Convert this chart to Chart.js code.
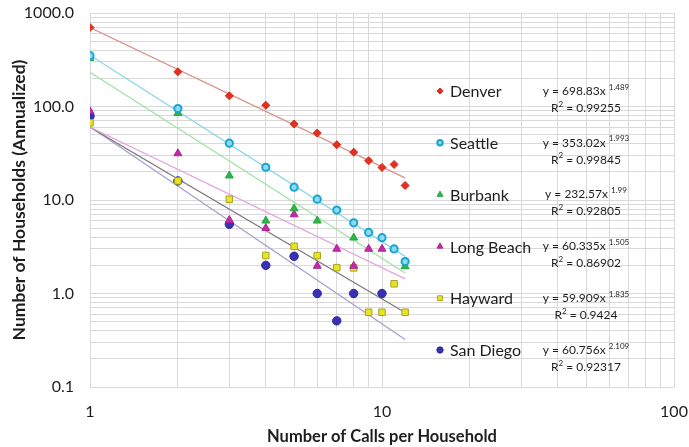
<!DOCTYPE html>
<html>
<head>
<meta charset="utf-8">
<script src="https://cdn.jsdelivr.net/npm/chart.js@4/dist/chart.umd.min.js"></script>
<style>
  html, body { margin: 0; padding: 0; background: #ffffff; }
  #wrap { width: 689px; height: 447px; }
</style>
</head>
<body>
<div id="wrap"><canvas id="c" width="689" height="447"></canvas></div>
<script>
// Calls per household (x) and annualized household counts per city (y)
const callCounts = [1, 2, 3, 4, 5, 6, 7, 8, 9, 10, 11, 12];

const cities = ['Denver', 'Seattle', 'Burbank', 'Long Beach', 'Hayward', 'San Diego'];

const denver    = [700, 235, 130, 103, 65, 52, 39, 32.5, 26.3, 22.3, 24, 14.3];
const seattle   = [350, 95, 40.5, 22.4, 13.7, 10.2, 7.8, 5.7, 4.5, 3.95, 3.0, 2.2];
const burbank   = [330, 85, 18.2, 6.0, 8.1, 6.0, null, 3.95, null, null, null, 1.95];
const longBeach = [89, 31.5, 6.1, 5.0, 7.0, 1.97, 3.0, 1.97, 3.0, 3.0, null, null];
const hayward   = [67, 16, 10.2, 2.55, 3.2, 2.54, 1.89, 1.88, 0.63, 0.63, 1.27, 0.63];
const sanDiego  = [79, 16, 5.5, 2.0, 2.5, 1.0, 0.51, 1.0, null, 1.0, null, null];

// Power-law fits y = a * x^(-b) with their R² values
const fitCoef = [698.83, 353.02, 232.57, 60.335, 59.909, 60.756];
const fitExp  = [1.489, 1.993, 1.99, 1.505, 1.835, 2.109];
const fitR2   = ['0.99255', '0.99845', '0.92805', '0.86902', '0.9424', '0.92317'];
const fitRange = [1, 12];

// Tick labels
const xTickLabels = ['1', '10', '100'];
const yTickLabels = ['0.1', '1.0', '10.0', '100.0', '1000.0'];

const seriesValues = [denver, seattle, burbank, longBeach, hayward, sanDiego];

const markerStyle = [
  { pointStyle: 'rectRot',  radius: 4,   fill: '#e5301f', stroke: '#d22a1a', width: 1 },
  { pointStyle: 'circle',   radius: 3.6, fill: '#8fdaf0', stroke: '#17a6d2', width: 2 },
  { pointStyle: 'triangle', radius: 4.6, fill: '#2cb548', stroke: '#27a642', width: 1 },
  { pointStyle: 'triangle', radius: 4.6, fill: '#c02ba6', stroke: '#b02498', width: 1 },
  { pointStyle: 'rect',     radius: 4.6, fill: '#e6e51e', stroke: '#a7a42a', width: 1 },
  { pointStyle: 'circle',   radius: 4.2, fill: '#3832b2', stroke: '#2a2596', width: 1 }
];
const trendColor = ['#d9938b', '#8ed6e8', '#9fe3a2', '#e4a6df', '#7c7c7c', '#a2a2cc'];

const FONT = 'Lato, "Open Sans", "DejaVu Sans", sans-serif';
const TEXT = '#1e1e1e';
const GRID = '#d9d9d9';

function isDecade(v) {
  const l = Math.log10(v);
  return Math.abs(l - Math.round(l)) < 1e-9;
}
function logTicks(min, max) {
  const out = [];
  for (let e = Math.round(Math.log10(min)); e < Math.round(Math.log10(max)); e++) {
    for (let m = 1; m <= 9; m++) out.push({ value: m * Math.pow(10, e) });
  }
  out.push({ value: max });
  return out;
}

const datasets = [];
cities.forEach((name, i) => {
  const st = markerStyle[i];
  datasets.push({
    label: name,
    order: 0,
    showLine: false,
    data: callCounts.map((x, k) => ({ x: x, y: seriesValues[i][k] })).filter(p => p.y !== null),
    pointStyle: st.pointStyle,
    pointRadius: st.radius,
    pointBackgroundColor: st.fill,
    pointBorderColor: st.stroke,
    pointBorderWidth: st.width
  });
});
cities.forEach((name, i) => {
  datasets.push({
    label: name + ' fit',
    order: 1,
    showLine: true,
    data: fitRange.map(x => ({ x: x, y: fitCoef[i] * Math.pow(x, -fitExp[i]) })),
    borderColor: trendColor[i],
    borderWidth: 1.3,
    pointRadius: 0
  });
});

// Series key with fit equations, drawn inside the plot on the right
const fitLegend = {
  id: 'fitLegend',
  afterDatasetsDraw(chart) {
    const ctx = chart.ctx;
    const top = 91, step = 51.8;
    const markX = 440, nameX = 450, eqX = 586;
    ctx.save();
    cities.forEach((name, i) => {
      const y = top + i * step;
      const st = markerStyle[i];
      ctx.fillStyle = st.fill;
      ctx.strokeStyle = st.stroke;
      ctx.lineWidth = st.width;
      Chart.helpers.drawPoint(ctx, {
        pointStyle: st.pointStyle, radius: st.radius * 0.75, rotation: 0, borderWidth: st.width
      }, markX, y);

      ctx.fillStyle = TEXT;
      ctx.textBaseline = 'middle';
      ctx.textAlign = 'left';
      ctx.font = '16px ' + FONT;
      ctx.fillText(name, nameX, y + 1);

      // y = a x^b
      const main = 'y = ' + fitCoef[i] + 'x ';
      const sup = fitExp[i].toFixed(3).replace(/0+$/, '').replace(/\.$/, '');
      ctx.font = '12px ' + FONT;
      const wMain = ctx.measureText(main).width;
      ctx.font = '8px ' + FONT;
      const wSup = ctx.measureText(sup).width;
      let x0 = eqX - (wMain + wSup) / 2;
      ctx.font = '12px ' + FONT;
      ctx.fillText(main, x0, y);
      ctx.font = '8px ' + FONT;
      ctx.fillText(sup, x0 + wMain, y - 4);

      // R² = value
      const r1 = 'R', r2 = '2', r3 = ' = ' + fitR2[i];
      ctx.font = '12px ' + FONT;
      const w1 = ctx.measureText(r1).width, w3 = ctx.measureText(r3).width;
      ctx.font = '8px ' + FONT;
      const w2 = ctx.measureText(r2).width;
      x0 = eqX - (w1 + w2 + w3) / 2;
      const ry = y + 17;
      ctx.font = '12px ' + FONT;
      ctx.fillText(r1, x0, ry);
      ctx.font = '8px ' + FONT;
      ctx.fillText(r2, x0 + w1, ry - 4);
      ctx.font = '12px ' + FONT;
      ctx.fillText(r3, x0 + w1 + w2, ry);
    });
    ctx.restore();
  }
};

function build() {
  new Chart(document.getElementById('c'), {
    type: 'scatter',
    data: { datasets: datasets },
    plugins: [fitLegend],
    options: {
      responsive: false,
      animation: false,
      events: [],
      layout: { padding: { top: 13, right: 15, left: 9, bottom: 0 } },
      plugins: { legend: { display: false }, tooltip: { enabled: false } },
      scales: {
        x: {
          type: 'logarithmic',
          min: 1, max: 100,
          afterBuildTicks: s => { s.ticks = logTicks(1, 100); },
          afterFit: s => { s.height = 60; s.paddingLeft = 0; s.paddingRight = 0; },
          grid: { color: GRID, lineWidth: 1, drawTicks: false },
          border: { display: false },
          ticks: {
            autoSkip: false, maxRotation: 0, padding: 15,
            color: TEXT, font: { family: FONT, size: 16 },
            callback: v => isDecade(v) ? xTickLabels[Math.round(Math.log10(v))] : ''
          },
          title: {
            display: true, text: 'Number of Calls per Household',
            color: TEXT, font: { family: FONT, size: 16.5, weight: 'bold' },
            padding: { top: 0, bottom: 0 }
          }
        },
        y: {
          type: 'logarithmic',
          min: 0.1, max: 1000,
          afterBuildTicks: s => { s.ticks = logTicks(0.1, 1000); },
          afterFit: s => { s.width = 81; s.paddingTop = 0; s.paddingBottom = 0; },
          grid: { color: GRID, lineWidth: 1, drawTicks: false },
          border: { display: false },
          ticks: {
            autoSkip: false, padding: 16,
            color: TEXT, font: { family: FONT, size: 16 },
            callback: v => isDecade(v) ? yTickLabels[Math.round(Math.log10(v)) + 1] : ''
          },
          title: {
            display: true, text: 'Number of Households (Annualized)',
            color: TEXT, font: { family: FONT, size: 17.5, weight: 'bold' },
            padding: { top: 0, bottom: 4 }
          }
        }
      }
    }
  });
}

if (document.fonts && document.fonts.load) {
  Promise.all([
    document.fonts.load('16px Lato'),
    document.fonts.load('bold 16px Lato')
  ]).then(build, build);
} else {
  build();
}
</script>
</body>
</html>
